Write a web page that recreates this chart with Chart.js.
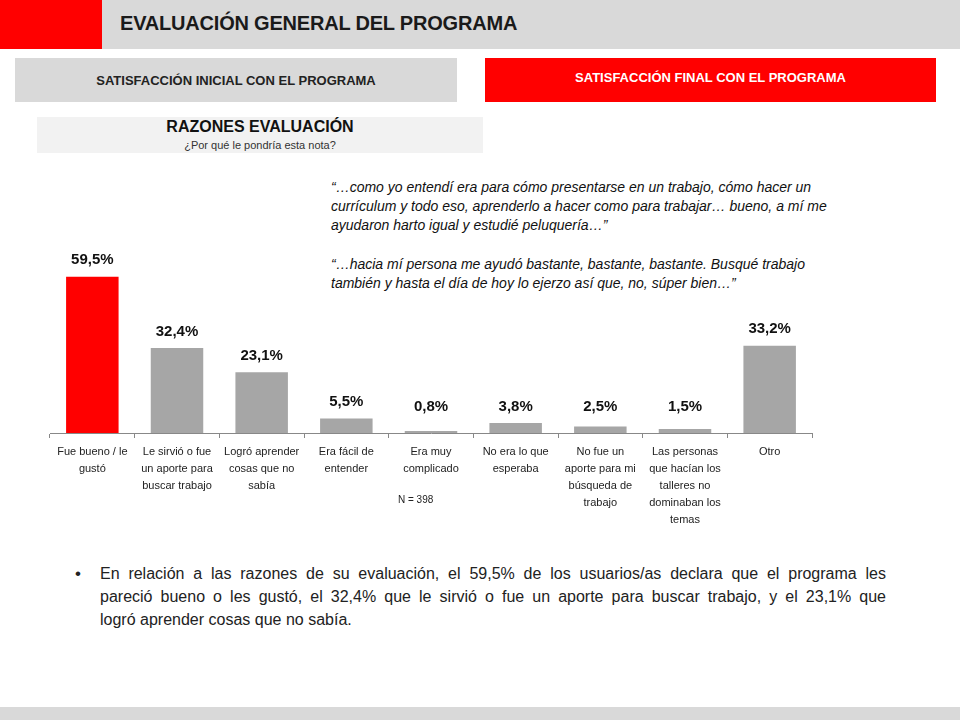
<!DOCTYPE html>
<html>
<head>
<meta charset="utf-8">
<script src="https://cdn.jsdelivr.net/npm/chart.js@4"></script>
<style>
  body { margin: 0; width: 960px; height: 720px; position: relative; background: #fff; overflow: hidden;
         font-family: 'Liberation Sans', sans-serif; color: #000; }
  .abs { position: absolute; }
  #topbar { left: 0; top: 0; width: 960px; height: 49px; background: #d9d9d9; }
  #redsq { left: 0; top: 0; width: 102px; height: 49px; background: #ff0000; }
  #title { left: 120px; top: 12px; font-size: 20px; font-weight: bold; letter-spacing: -0.2px; color: #1a1a1a; }
  .tab { top: 58px; height: 44px; font-size: 13px; font-weight: bold; text-align: center; }
  #tab1 { left: 15px; width: 442px; background: #d9d9d9; color: #222; line-height: 46px; }
  #tab2 { left: 485px; width: 451px; background: #ff0000; color: #fff; line-height: 40px; }
  #razones { left: 37px; top: 117px; width: 446px; height: 36px; background: #f2f2f2; text-align: center; }
  #razones .h { font-size: 16px; font-weight: bold; color: #111; margin-top: 1px; }
  #razones .s { font-size: 11px; color: #333; margin-top: 3px; }
  .quote { left: 331px; font-size: 14px; font-style: italic; color: #111; white-space: nowrap; }
  #chartbox { left: 40px; top: 223px; width: 790px; height: 317px; }
  #n { left: 398px; top: 494px; font-size: 10px; color: #222; }
  #bullet { left: 75px; top: 564px; font-size: 17px; color: #222; }
  .line { left: 100px; width: 786px; font-size: 16px; color: #222; white-space: nowrap; }
  .just { text-align: justify; text-align-last: justify; }
  #bottombar { left: 0; top: 707px; width: 960px; height: 13px; background: #d9d9d9; }
</style>
</head>
<body>
<div id="topbar" class="abs"></div>
<div id="redsq" class="abs"></div>
<div id="title" class="abs">EVALUACIÓN GENERAL DEL PROGRAMA</div>
<div id="tab1" class="abs tab">SATISFACCIÓN INICIAL CON EL PROGRAMA</div>
<div id="tab2" class="abs tab">SATISFACCIÓN FINAL CON EL PROGRAMA</div>
<div id="razones" class="abs">
  <div class="h">RAZONES EVALUACIÓN</div>
  <div class="s">¿Por qué le pondría esta nota?</div>
</div>

<div class="abs quote" style="top:179px">“…como yo entendí era para cómo presentarse en un trabajo, cómo hacer un</div>
<div class="abs quote" style="top:198px">currículum y todo eso, aprenderlo a hacer como para trabajar… bueno, a mí me</div>
<div class="abs quote" style="top:217px">ayudaron harto igual y estudié peluquería…”</div>
<div class="abs quote" style="top:256px">“…hacia mí persona me ayudó bastante, bastante, bastante. Busqué trabajo</div>
<div class="abs quote" style="top:275px">también y hasta el día de hoy lo ejerzo así que, no, súper bien…”</div>

<div id="chartbox" class="abs"><canvas id="chart"></canvas></div>
<div id="n" class="abs">N = 398</div>

<div id="bullet" class="abs">•</div>
<div class="abs line just" style="top:565px">En relación a las razones de su evaluación, el 59,5% de los usuarios/as declara que el programa les</div>
<div class="abs line just" style="top:588px">pareció bueno o les gustó, el 32,4% que le sirvió o fue un aporte para buscar trabajo,  y el 23,1% que</div>
<div class="abs line" style="top:611px">logró aprender cosas que no sabía.</div>

<div id="bottombar" class="abs"></div>

<script>
const categories = [
  ['Fue bueno / le', 'gustó'],
  ['Le sirvió o fue', 'un aporte para', 'buscar trabajo'],
  ['Logró aprender', 'cosas que no', 'sabía'],
  ['Era fácil de', 'entender'],
  ['Era muy', 'complicado'],
  ['No era lo que', 'esperaba'],
  ['No fue un', 'aporte para mi', 'búsqueda de', 'trabajo'],
  ['Las personas', 'que hacían los', 'talleres no', 'dominaban los', 'temas'],
  ['Otro']
];
const values = [59.5, 32.4, 23.1, 5.5, 0.8, 3.8, 2.5, 1.5, 33.2];
const barColors = ['#ff0000', '#a6a6a6', '#a6a6a6', '#a6a6a6', '#a6a6a6', '#a6a6a6', '#a6a6a6', '#a6a6a6', '#a6a6a6'];

// Labels like "59,5%" above every bar
const valueLabels = {
  id: 'valueLabels',
  afterDatasetsDraw(chart) {
    const ctx = chart.ctx;
    const meta = chart.getDatasetMeta(0);
    ctx.save();
    ctx.font = 'bold 15px "Liberation Sans", sans-serif';
    ctx.fillStyle = '#111';
    ctx.textAlign = 'center';
    ctx.textBaseline = 'bottom';
    meta.data.forEach((bar, i) => {
      const txt = values[i].toFixed(1).replace('.', ',') + '%';
      ctx.fillText(txt, bar.x, Math.min(bar.y, chart.chartArea.bottom - 10) - 9);
    });
    ctx.restore();
  }
};

new Chart(document.getElementById('chart'), {
  type: 'bar',
  data: {
    labels: categories,
    datasets: [{ data: values, backgroundColor: barColors, categoryPercentage: 0.62, barPercentage: 1 }]
  },
  options: {
    responsive: true,
    maintainAspectRatio: false,
    animation: false,
    layout: { padding: { left: 10, right: 18, top: 0, bottom: 0 } },
    plugins: { legend: { display: false }, tooltip: { enabled: false } },
    scales: {
      x: {
        afterFit(scale) { scale.height = 107; },
        grid: { drawOnChartArea: false, tickLength: 5, color: '#888', offset: true },
        border: { color: '#888' },
        ticks: {
          autoSkip: false, maxRotation: 0, padding: 5, color: '#222',
          font: { family: '"Liberation Sans", sans-serif', size: 11, lineHeight: 1.55 }
        }
      },
      y: { display: false, min: 0, max: 80 }
    }
  },
  plugins: [valueLabels]
});
</script>
</body>
</html>
